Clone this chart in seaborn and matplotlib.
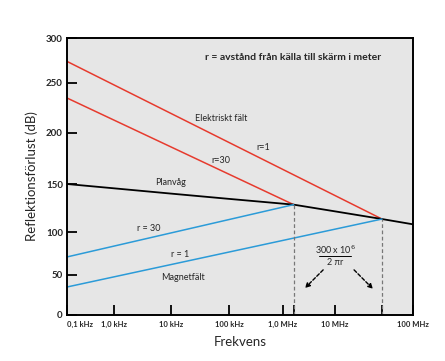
import numpy as np
import matplotlib
matplotlib.use("Agg")
import matplotlib.pyplot as plt
import seaborn as sns

# frequencies in Hz, losses in dB
freq_start = 1e2
f_cross_r30 = 1.6e6
f_cross_r1 = 4e7

plane_freq = [1e2, 1e3, 1e4, 1e5, 1e6, 1.6e6, 1e7, 4e7, 1e8]
plane_db = [150, 145.5, 140, 134.5, 129.5, 128.5, 121.5, 113.5, 108]

e_r1_freq = [freq_start, f_cross_r1]
e_r1_db = [274, 113.5]
e_r30_freq = [freq_start, f_cross_r30]
e_r30_db = [235, 128.5]
m_r30_freq = [freq_start, f_cross_r30]
m_r30_db = [71, 128.5]
m_r1_freq = [freq_start, f_cross_r1]
m_r1_db = [35, 113.5]

xtick_vals = [1e2, 1e3, 1e4, 1e5, 1e6, 1e7, 1e8]
xtick_labels = ["0,1 kHz", "1,0 kHz", "10 kHz", "100 kHz", "1,0 MHz", "10 MHz", "100 MHz"]
ytick_vals = [0, 50, 100, 150, 200, 250, 300]

# the drawn axes are hand spaced: piecewise scale through the tick positions
x_decades = [2, 3, 4, 5, 6, 7, 8]
x_pos = [0, 47, 104, 162, 216, 268, 346]
y_pos = [0, 40, 83, 131, 182, 232, 277]


def fx(f):
    return np.interp(np.log10(np.clip(f, 1e-300, None)), x_decades, x_pos)


def fx_inv(u):
    return 10 ** np.interp(u, x_pos, x_decades)


def fy(v):
    return np.interp(v, ytick_vals, y_pos)


def fy_inv(u):
    return np.interp(u, y_pos, ytick_vals)


sns.set_style("ticks")
plt.rcParams['font.family'] = ['Lato', 'DejaVu Sans']

red = "#e63b2e"
blue = "#2b9bd8"

fig = plt.figure(figsize=(4.45, 3.61), dpi=100)
ax = fig.add_axes([67 / 445, 46 / 361, 346 / 445, 277 / 361])
ax.set_facecolor("#e6e6e6")

sns.lineplot(x=e_r1_freq, y=e_r1_db, color=red, lw=1.1, ax=ax)
sns.lineplot(x=e_r30_freq, y=e_r30_db, color=red, lw=1.1, ax=ax)
sns.lineplot(x=plane_freq, y=plane_db, color="black", lw=1.3, ax=ax)
sns.lineplot(x=m_r30_freq, y=m_r30_db, color=blue, lw=1.1, ax=ax)
sns.lineplot(x=m_r1_freq, y=m_r1_db, color=blue, lw=1.1, ax=ax)

ax.vlines([f_cross_r30, f_cross_r1], 0, [e_r30_db[-1], e_r1_db[-1]],
          colors="#777777", linestyles=(0, (3, 2)), lw=0.9)

ax.set_xscale("function", functions=(fx, fx_inv))
ax.set_yscale("function", functions=(fy, fy_inv))
ax.set_xlim(1e2, 1e8)
ax.set_ylim(0, 300)

ax.set_xticks(xtick_vals)
ax.set_xticklabels(xtick_labels, fontsize=5.5, fontweight="bold")
ax.set_xticks([f_cross_r30, f_cross_r1], minor=True)
ax.set_yticks(ytick_vals)
ax.set_yticklabels([str(v) for v in ytick_vals], fontsize=7, fontweight="bold")
ax.get_xticklabels()[0].set_horizontalalignment("left")
ax.tick_params(axis="both", which="both", direction="in", length=7.5, width=1.3, color="black")
ax.tick_params(axis="x", pad=4)
ax.tick_params(axis="y", pad=3)

for s in ax.spines.values():
    s.set_linewidth(1.4)
    s.set_color("black")

ax.set_xlabel("Frekvens", fontsize=9.5, labelpad=6)
ax.set_ylabel("Reflektionsförlust (dB)", fontsize=9.5, labelpad=6)

tr = ax.transAxes
ax.text(0.653, 0.931, "r = avstånd från källa till skärm i meter", transform=tr,
        fontsize=7.5, fontweight="bold", ha="center", va="center")
ax.text(0.37, 0.711, "Elektriskt fält", transform=tr, fontsize=6.5, ha="left", va="center")
ax.text(0.566, 0.603, "r=1", transform=tr, fontsize=6.5, ha="center", va="center")
ax.text(0.445, 0.556, "r=30", transform=tr, fontsize=6.5, ha="center", va="center")
ax.text(0.298, 0.477, "Planvåg", transform=tr, fontsize=6.5, ha="center", va="center")
ax.text(0.237, 0.314, "r = 30", transform=tr, fontsize=6.5, ha="center", va="center")
ax.text(0.327, 0.220, "r = 1", transform=tr, fontsize=6.5, ha="center", va="center")
ax.text(0.335, 0.137, "Magnetfält", transform=tr, fontsize=6.5, ha="center", va="center")

ax.text(0.775, 0.237, "300 x 10$^6$", transform=tr, fontsize=6.5, ha="center", va="center")
ax.text(0.775, 0.189, "2 πr", transform=tr, fontsize=6.5, ha="center", va="center")
ax.plot([0.728, 0.822], [0.213, 0.213], transform=tr, color="black", lw=0.7)

arrow = dict(arrowstyle="-|>", linestyle=(0, (2.5, 1.5)), color="black", lw=1.0,
             mutation_scale=7)
ax.annotate("", xy=(0.682, 0.09), xytext=(0.746, 0.17), xycoords=tr, textcoords=tr,
            arrowprops=arrow)
ax.annotate("", xy=(0.89, 0.087), xytext=(0.824, 0.17), xycoords=tr, textcoords=tr,
            arrowprops=arrow)

fig.savefig("out.png", dpi=100)
